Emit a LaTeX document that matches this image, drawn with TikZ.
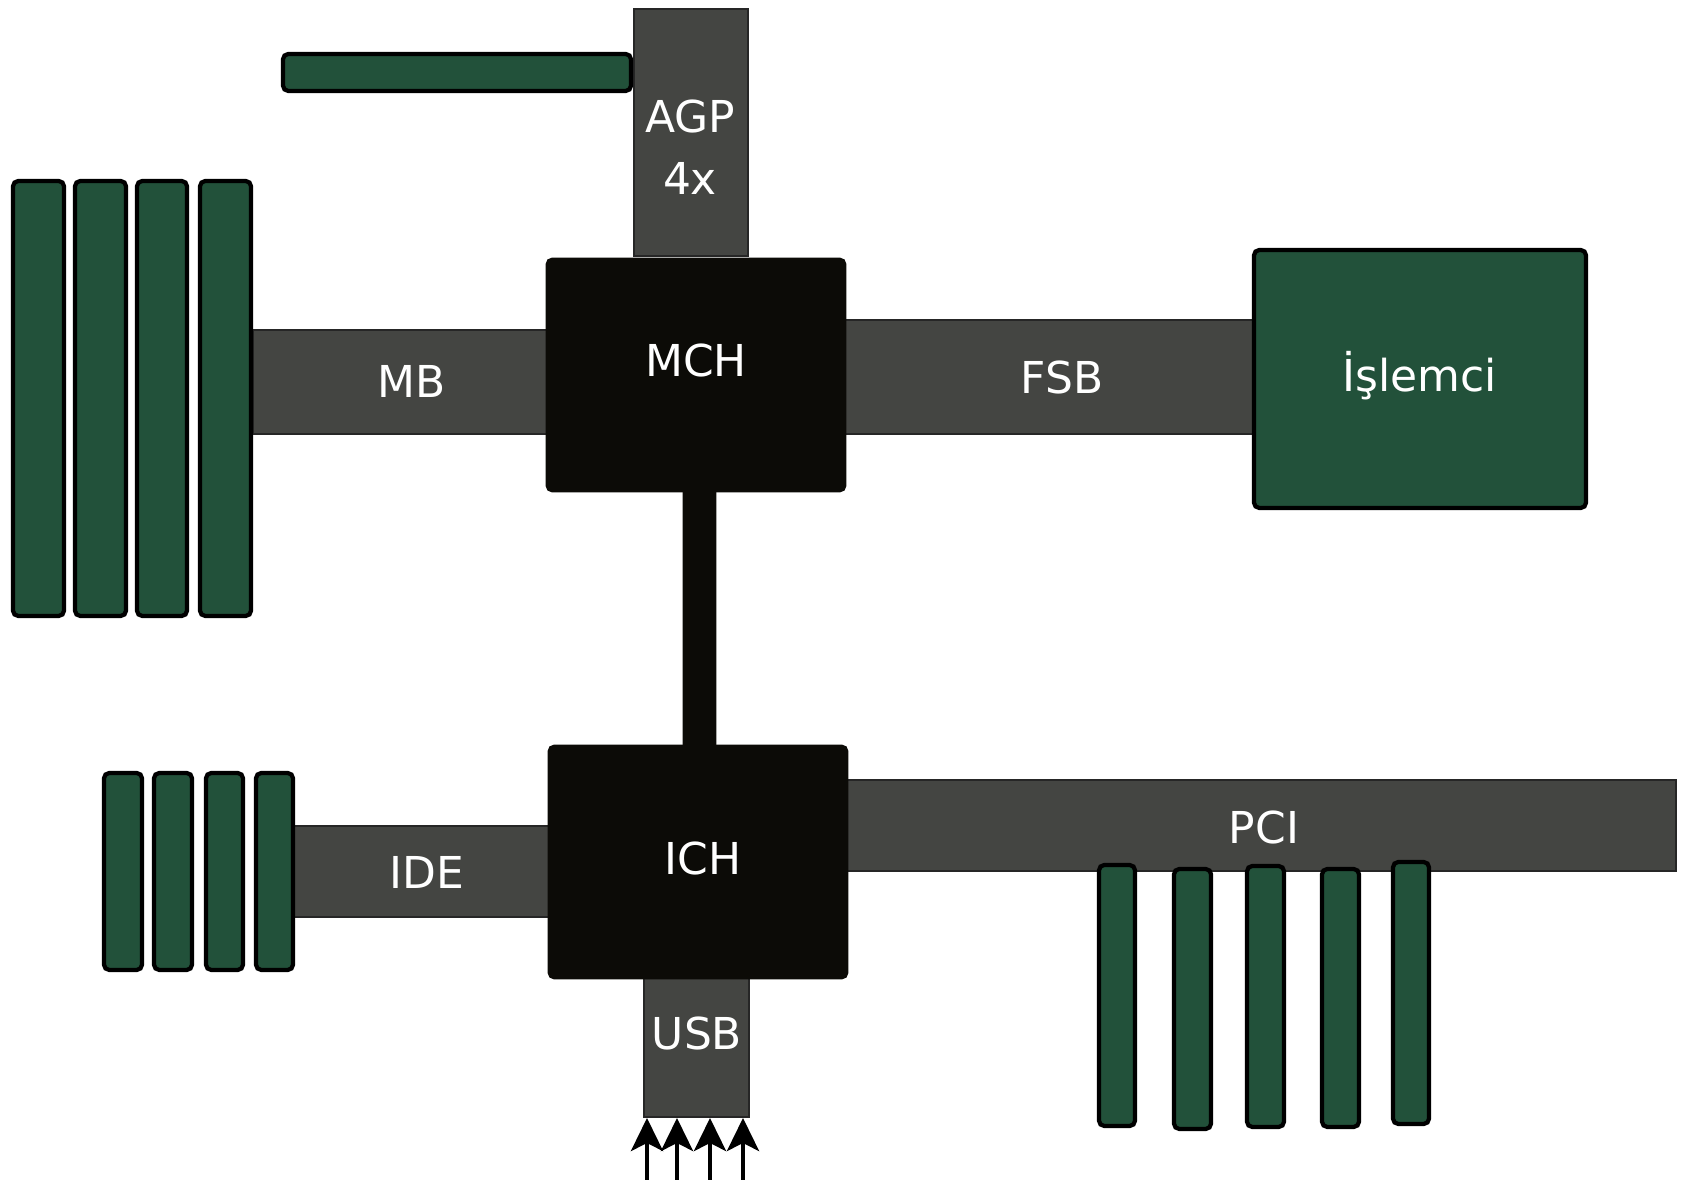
\documentclass[tikz,border=0pt]{standalone}
\usepackage{fontspec}
\setmainfont{DejaVu Sans}
\usetikzlibrary{arrows.meta}
\definecolor{busgray}{HTML}{444542}
\definecolor{cardgreen}{HTML}{22513A}
\definecolor{chipblack}{HTML}{0C0B07}

\begin{document}
\begin{tikzpicture}[x=0.01cm,y=-0.01cm,
    bus/.style={fill=busgray,draw=black!85,line width=0.5pt},
    card/.style={fill=cardgreen,draw=black,line width=1.2pt,rounded corners=1.5pt},
    chip/.style={fill=chipblack,draw=chipblack,line width=0.8pt,rounded corners=1.5pt},
    lbl/.style={text=white,anchor=base,inner sep=0pt,font=\fontsize{12.5}{15}\selectfont},
    usbarrow/.style={-{Stealth[length=0.33cm,width=0.32cm,inset=0.08cm]},line width=1.2pt}]
    \useasboundingbox (0,0) rectangle (1681,1180);

    % Buses
    \draw[bus] (634,9) rectangle (748,256);
    \draw[bus] (253,330) rectangle (548,434);
    \draw[bus] (843,320) rectangle (1255,434);
    \draw[bus] (293,826) rectangle (552,917);
    \draw[bus] (843,780) rectangle (1676,871);
    \draw[bus] (644,970) rectangle (749,1117);
    \draw[chip] (684,480) rectangle (715,752);

    % Chips
    \draw[chip] (547,259) rectangle (845,491);
    \draw[chip] (549,746) rectangle (847,978);
    \draw[card] (1254,250) rectangle (1586,508);

    % Cards and slots
    \draw[card] (283,54) rectangle (631,91);
    \foreach \a/\b in {13/64, 75/126, 137/187, 200/251}
        \draw[card] (\a,181) rectangle (\b,616);
    \foreach \a/\b in {104/142, 154/192, 206/243, 256/293}
        \draw[card] (\a,773) rectangle (\b,970);
    \foreach \a/\b/\t/\e in {1099/1135/865/1126, 1174/1211/869/1129, 1247/1284/866/1127, 1322/1359/869/1127, 1393/1429/862/1124}
        \draw[card] (\a,\t) rectangle (\b,\e);

    % Labels
    \node[lbl] (agp) at (690,133) {AGP};
    \node[lbl] (agpx) at (690,195) {4x};
    \node[lbl] (mb) at (412,398) {MB};
    \node[lbl] (mch) at (696,377) {MCH};
    \node[lbl] (fsb) at (1062,394) {FSB};
    \node[lbl] (cpu) at (1420,392) {İşlemci};
    \node[lbl] (ich) at (703,875) {ICH};
    \node[lbl] (ide) at (427,889) {IDE};
    \node[lbl] (pci) at (1264,844) {PCI};
    \node[lbl] (usb) at (697,1050) {USB};

    % USB ports
    \foreach \p/\x in {1/647, 2/677, 3/710, 4/743} {
        \coordinate (port\p) at (\x,1180);
        \coordinate (tip\p) at (\x,1118);
        \draw[usbarrow] (port\p) -- (tip\p);
    }
\end{tikzpicture}
\end{document}
